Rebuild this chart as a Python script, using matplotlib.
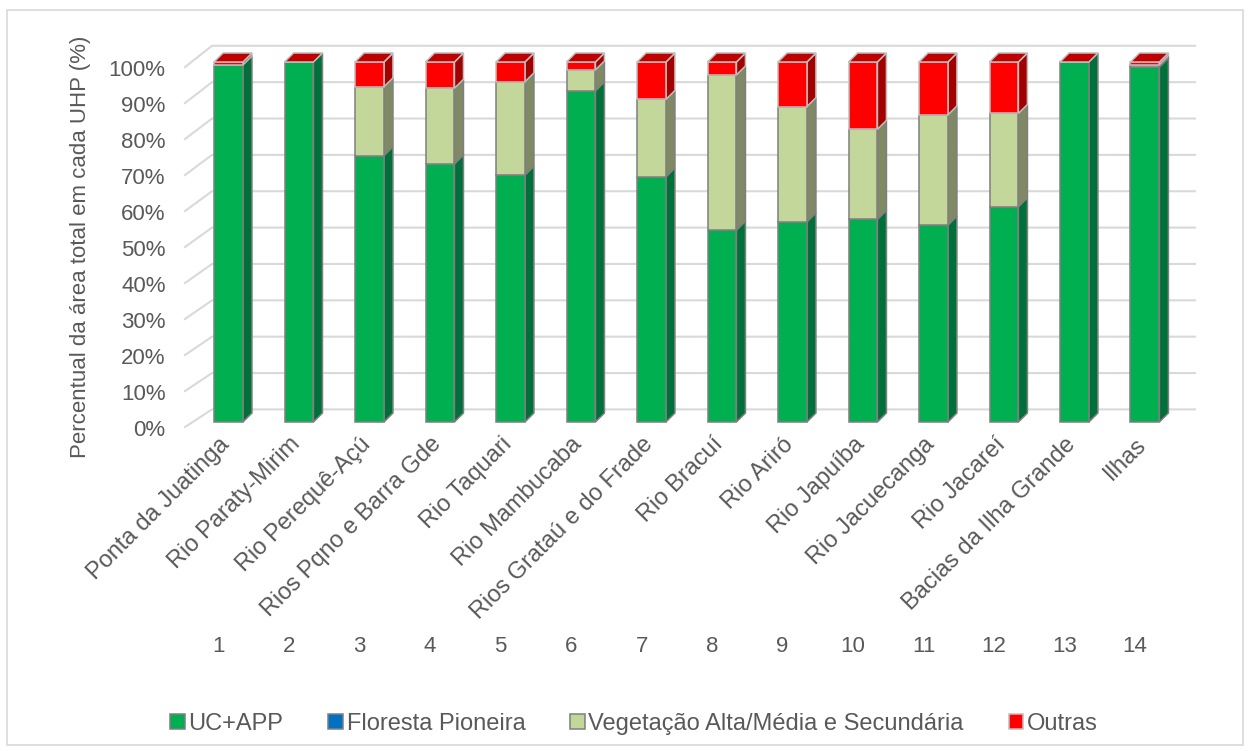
import numpy as np
import matplotlib
matplotlib.use("Agg")
import matplotlib.pyplot as plt
from matplotlib.patches import Polygon, Patch, Rectangle
from matplotlib.transforms import ScaledTranslation

plt.rcParams['font.family'] = ['Liberation Sans', 'DejaVu Sans']

names = ["Ponta da Juatinga", "Rio Paraty-Mirim", "Rio Perequê-Açú",
         "Rios Pqno e Barra Gde", "Rio Taquari", "Rio Mambucaba",
         "Rios Grataú e do Frade", "Rio Bracuí", "Rio Ariró", "Rio Japuíba",
         "Rio Jacuecanga", "Rio Jacareí", "Bacias da Ilha Grande", "Ilhas"]
uhp = list(range(1, 15))

uc_app = [99.2, 100.0, 74.0, 71.7, 68.6, 92.0, 68.1, 53.3, 55.6, 56.3, 54.7, 59.8, 100.0, 98.6]
floresta = [0.0] * 14
vegetacao = [0.0, 0.0, 19.1, 21.0, 25.9, 5.8, 21.5, 43.1, 32.0, 25.0, 30.6, 25.9, 0.0, 0.7]
outras = [0.8, 0.0, 6.9, 7.3, 5.5, 2.2, 10.4, 3.6, 12.4, 18.7, 14.7, 14.3, 0.0, 0.7]

series = [
    ("UC+APP", uc_app, "#00B050", "#00703A", "#7F7F7F"),
    ("Floresta Pioneira", floresta, "#0070C0", "#004A80", "#7F7F7F"),
    ("Vegetação Alta/Média e Secundária", vegetacao, "#C4D79B", "#7F8964", "#7F7F7F"),
    ("Outras", outras, "#FF0000", "#A30000", "#BFBFBF"),
]
top_color = "#C00000"
text_color = "#595959"
grid_color = "#D9D9D9"

W, H = 1250, 751
fig = plt.figure(figsize=(W / 100, H / 100), dpi=100)
ax = fig.add_axes([185 / W, (H - 422) / H, (1195 - 185) / W, 360 / H])
ax.set_xlim(0.383, 14.71)
ax.set_ylim(0, 100)
for s in ax.spines.values():
    s.set_visible(False)
ax.set_xticks([])
ax.patch.set_alpha(0)

# 3D look: depth offsets for side and top faces
w = 0.41
dx, dy = 0.128, 2.5

# back wall + side wall gridlines
x_front, x_back, x_end = 0.383, 0.766, 14.71
for g in range(0, 101, 10):
    yf = g - 1.4
    yb = 3.5 + 1.01 * g
    ax.plot([x_front, x_back, x_end], [yf, yb, yb], color=grid_color, lw=1.5,
            zorder=0, clip_on=False, solid_joinstyle='miter')

x = np.array(uhp, dtype=float)
bottom = np.zeros(len(x))
for label, vals, face, side, edge in series:
    vals = np.array(vals)
    ax.bar(x, vals, width=w, bottom=bottom, color=face, edgecolor=edge,
           linewidth=1.1, zorder=3, clip_on=False, label=label)
    for xi, b, v in zip(x, bottom, vals):
        if v <= 0:
            continue
        xr = xi + w / 2
        ax.add_patch(Polygon([(xr, b), (xr + dx, b + dy), (xr + dx, b + v + dy), (xr, b + v)],
                             closed=True, facecolor=side, edgecolor=edge, lw=1.1,
                             zorder=2, clip_on=False))
    bottom = bottom + vals

# top faces
for xi, t in zip(x, bottom):
    xl, xr = xi - w / 2, xi + w / 2
    ax.add_patch(Polygon([(xl, t), (xl + dx, t + dy), (xr + dx, t + dy), (xr, t)],
                         closed=True, facecolor=top_color, edgecolor="#BFBFBF", lw=1.1,
                         zorder=4, clip_on=False))

# y axis labels
ticks = np.arange(0, 101, 10)
ax.set_yticks(ticks)
ax.set_yticklabels([f"{t}%" for t in ticks], fontsize=16, color=text_color)
ax.tick_params(axis='y', length=0, pad=14)
shift = ScaledTranslation(0, -0.055, fig.dpi_scale_trans)
for lbl in ax.get_yticklabels():
    lbl.set_transform(lbl.get_transform() + shift)

fig.text(81 / W, (H - 247) / H, "Percentual da área total em cada UHP (%)",
         rotation=90, ha='center', va='center', fontsize=16, color=text_color)

# category names and UHP numbers
for xi, name, n in zip(x, names, uhp):
    ax.text(xi - 0.03, -5.3, name, rotation=45, rotation_mode='anchor',
            ha='right', va='center', fontsize=17, color=text_color, clip_on=False)
    ax.text(xi - 0.14, -62.5, str(n), ha='center', va='center', fontsize=16,
            color=text_color, clip_on=False)

handles = [Patch(facecolor=face, edgecolor=edge, linewidth=1.1)
           for _, _, face, _, edge in series]
labels = [s[0] for s in series]
fig.legend(handles, labels, loc='center', bbox_to_anchor=(634 / W, (H - 724) / H),
           ncol=4, frameon=False, fontsize=17, handlelength=0.62, handleheight=0.62,
           handletextpad=0.15, columnspacing=1.9, labelcolor=text_color)

fig.patches.append(Rectangle((7 / W, 6 / H), (1243 - 7) / W, (741 - 6) / H,
                             transform=fig.transFigure, fill=False,
                             edgecolor="#D9D9D9", lw=1.2))

fig.savefig("out.png", dpi=100, facecolor="white")
